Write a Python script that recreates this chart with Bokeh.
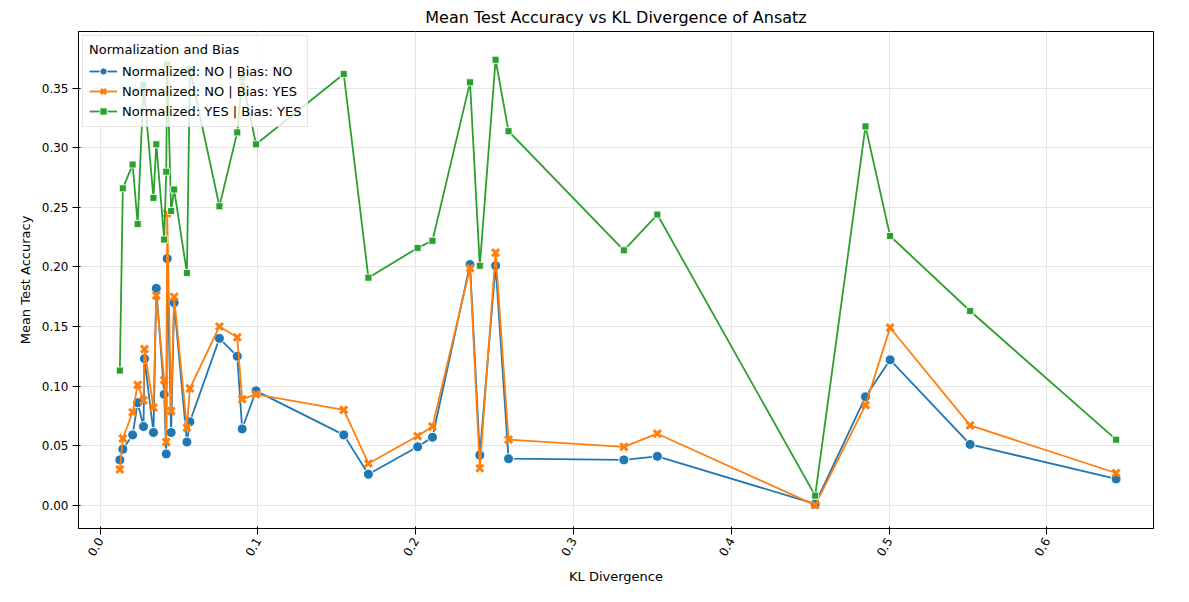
from bokeh.plotting import figure
from bokeh.models import Legend, LegendItem, FixedTicker, CustomJSTickFormatter
from bokeh.embed import file_html
from bokeh.resources import INLINE
import math

x_a = [0.0125, 0.0144, 0.0206, 0.0238, 0.0275, 0.0281, 0.0338, 0.0356, 0.0406, 0.0419, 0.0425, 0.045, 0.0469,
       0.055, 0.0569, 0.0756, 0.0869, 0.09, 0.0988, 0.1544, 0.17, 0.2012, 0.2106, 0.2344, 0.2406, 0.2506, 0.2588,
       0.3319, 0.3531, 0.4531, 0.4850, 0.5006, 0.5513, 0.6438]
blue = [0.038, 0.047, 0.059, 0.086, 0.066, 0.123, 0.061, 0.182, 0.093, 0.043, 0.207, 0.061, 0.170,
        0.053, 0.070, 0.140, 0.125, 0.064, 0.096, 0.059, 0.026, 0.049, 0.057, 0.202, 0.042, 0.201, 0.039,
        0.038, 0.041, 0.001, 0.091, 0.122, 0.051, 0.022]
orange = [0.030, 0.056, 0.078, 0.101, 0.088, 0.131, 0.082, 0.176, 0.105, 0.053, 0.245, 0.079, 0.175,
          0.065, 0.098, 0.150, 0.141, 0.089, 0.093, 0.080, 0.035, 0.058, 0.066, 0.199, 0.031, 0.212, 0.055,
          0.049, 0.060, 0.000, 0.084, 0.149, 0.067, 0.027]
x_g = [0.0125, 0.0144, 0.0206, 0.0238, 0.0275, 0.0338, 0.0356, 0.0406, 0.0419, 0.0425, 0.045, 0.0469,
       0.055, 0.0569, 0.0756, 0.0869, 0.09, 0.0988, 0.1544, 0.17, 0.2012, 0.2106, 0.2344, 0.2406, 0.2506, 0.2588,
       0.3319, 0.3531, 0.4531, 0.4850, 0.5006, 0.5513, 0.6438]
green = [0.113, 0.266, 0.286, 0.236, 0.353, 0.258, 0.303, 0.223, 0.280, 0.370, 0.247, 0.265,
         0.195, 0.366, 0.251, 0.313, 0.359, 0.303, 0.362, 0.191, 0.216, 0.222, 0.355, 0.201, 0.374, 0.314,
         0.214, 0.244, 0.008, 0.318, 0.226, 0.163, 0.055]

c_blue, c_orange, c_green = "#1f77b4", "#ff7f0e", "#2ca02c"

p = figure(width=1173, height=586, x_range=(-0.0137, 0.6675), y_range=(-0.0196, 0.3977),
           output_backend="svg", toolbar_location=None,
           title="Mean Test Accuracy vs KL Divergence of Ansatz")
p.title.align = "center"
p.title.text_font_size = "16px"
p.title.text_font_style = "normal"
p.title.text_font = "DejaVu Sans"
p.title.text_color = "black"
p.min_border_left = 78
p.min_border_right = 20
p.min_border_top = 4
p.min_border_bottom = 4

l1 = p.line(x_a, blue, color=c_blue, line_width=1.8)
m1 = p.scatter(x_a, blue, marker="circle", size=10, fill_color=c_blue, line_color="white", line_width=1)
l2 = p.line(x_a, orange, color=c_orange, line_width=1.8)
m2 = p.scatter(x_a, orange, marker="x", size=10, line_color=c_orange, line_width=3)
l3 = p.line(x_g, green, color=c_green, line_width=1.8)
m3 = p.scatter(x_g, green, marker="square", size=7, fill_color=c_green, line_color="white", line_width=0.8)

p.xaxis.ticker = FixedTicker(ticks=[0.0, 0.1, 0.2, 0.3, 0.4, 0.5, 0.6])
p.yaxis.ticker = FixedTicker(ticks=[0.0, 0.05, 0.1, 0.15, 0.2, 0.25, 0.3, 0.35])
p.yaxis.formatter = CustomJSTickFormatter(code="return tick.toFixed(2)")
p.xaxis.formatter = CustomJSTickFormatter(code="return tick.toFixed(1)")
p.xaxis.major_label_orientation = math.radians(60)
p.xaxis.axis_label = "KL Divergence"
p.yaxis.axis_label = "Mean Test Accuracy"
for ax in (p.xaxis, p.yaxis):
    ax.axis_label_text_font_style = "normal"
    ax.axis_label_text_font_size = "13px"
    ax.major_label_text_font_size = "12px"
    ax.axis_label_text_font = "DejaVu Sans"
    ax.major_label_text_font = "DejaVu Sans"
    ax.axis_label_text_color = "black"
    ax.major_label_text_color = "black"
    ax.minor_tick_line_color = None
    ax.major_label_standoff = 4
    ax.axis_label_standoff = 6
p.grid.grid_line_color = "#e6e6e6"
p.outline_line_color = "black"

legend = Legend(items=[
    LegendItem(label="Normalized: NO | Bias: NO", renderers=[l1, m1]),
    LegendItem(label="Normalized: NO | Bias: YES", renderers=[l2, m2]),
    LegendItem(label="Normalized: YES | Bias: YES", renderers=[l3, m3]),
], location="top_left", title="Normalization and Bias")
legend.title_text_font_size = "13px"
legend.title_text_font_style = "normal"
legend.label_text_font_size = "13px"
legend.label_text_font = "DejaVu Sans"
legend.title_text_font = "DejaVu Sans"
legend.title_text_color = "black"
legend.label_text_color = "black"
legend.spacing = 2
legend.label_height = 18
legend.glyph_height = 18
legend.glyph_width = 28
legend.padding = 6
legend.border_line_color = "#cccccc"
legend.background_fill_alpha = 0.8
legend.margin = 4
p.add_layout(legend)

open("out.html", "w").write(file_html(p, INLINE))
